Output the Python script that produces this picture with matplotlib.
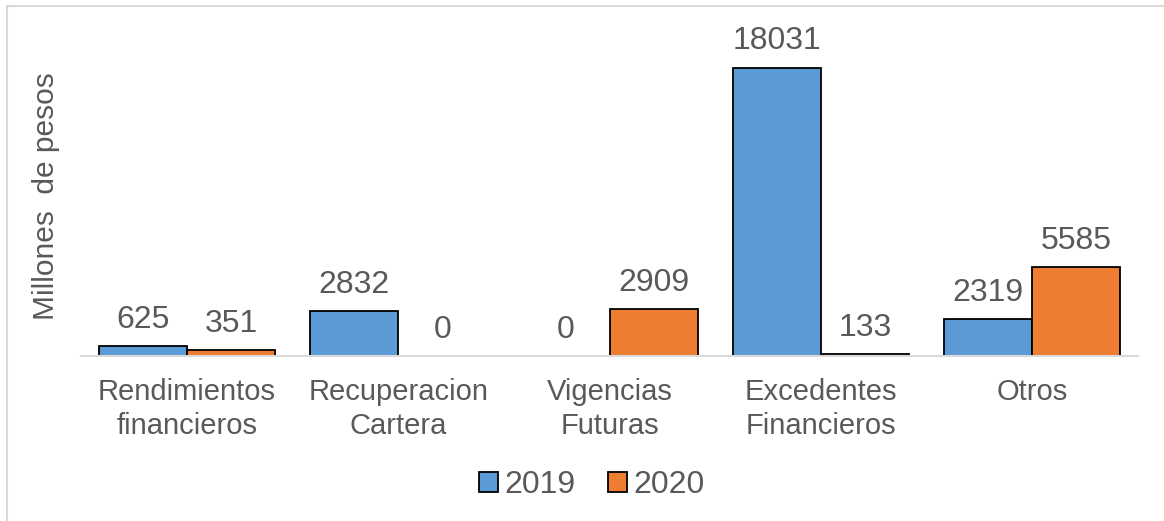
import numpy as np
import matplotlib
matplotlib.use("Agg")
import matplotlib.pyplot as plt
from matplotlib.lines import Line2D

plt.rcParams['font.family'] = ['Liberation Sans', 'DejaVu Sans']

categories = ['Rendimientos\nfinancieros', 'Recuperacion\nCartera', 'Vigencias\nFuturas',
              'Excedentes\nFinancieros', 'Otros']
vals_2019 = [625, 2832, 0, 18031, 2319]
vals_2020 = [351, 0, 2909, 133, 5585]
series_names = ['2019', '2020']

blue = '#5B9BD5'
orange = '#ED7D31'
gray = '#595959'

W, H = 1164, 521
fig = plt.figure(figsize=(W / 100, H / 100), dpi=100)
ax = fig.add_axes([81.4 / W, 1 - 356 / H, (1137.6 - 81.4) / W, (356 - 36) / H])

x = np.arange(len(categories))
bw = 0.417
b1 = ax.bar(x - bw / 2, vals_2019, bw, color=blue, edgecolor='black', linewidth=1.3, label=series_names[0])
b2 = ax.bar(x + bw / 2, vals_2020, bw, color=orange, edgecolor='black', linewidth=1.3, label=series_names[1])

for bars in (b1, b2):
    for r in bars:
        v = r.get_height()
        ax.annotate(str(int(v)), (r.get_x() + r.get_width() / 2, v),
                    xytext=(0, 8), textcoords='offset points',
                    ha='center', va='bottom', fontsize=23, color=gray)

ax.set_xlim(-0.5, len(categories) - 0.5)
ax.set_ylim(0, 20000)
ax.set_yticks([])
ax.set_xticks(x)
ax.set_xticklabels(categories, fontsize=21, color=gray, linespacing=1.24)
ax.tick_params(axis='x', length=0, pad=16)
for s in ['top', 'right', 'left']:
    ax.spines[s].set_visible(False)
ax.spines['bottom'].set_color('#D9D9D9')
ax.spines['bottom'].set_linewidth(1.5)

fig.text(46 / W, 1 - 196 / H, 'Millones  de pesos', rotation=90, ha='center', va='center',
         fontsize=21.5, color=gray)

ax.legend(loc='center', bbox_to_anchor=(592 / W, 1 - 485 / H), bbox_transform=fig.transFigure,
          ncol=2, frameon=False, fontsize=23, labelcolor=gray, handlelength=0.6,
          handleheight=0.6, handletextpad=0.2, columnspacing=1.0)

fig.add_artist(Line2D([7 / W, 7 / W], [0, 1 - 6 / H], color='#D9D9D9', linewidth=1.5,
                      transform=fig.transFigure))
fig.add_artist(Line2D([7 / W, 1], [1 - 6 / H, 1 - 6 / H], color='#D9D9D9', linewidth=1.5,
                      transform=fig.transFigure))

fig.savefig('out.png', dpi=100)
